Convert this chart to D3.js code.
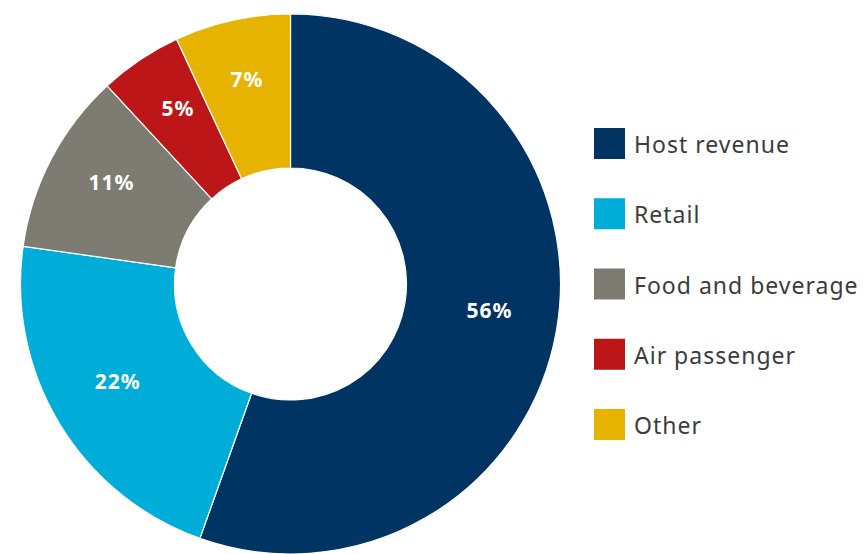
<!DOCTYPE html>
<html>
<head>
<meta charset="utf-8">
<script src="https://cdn.jsdelivr.net/npm/d3@7/dist/d3.min.js"></script>
<style>
  html, body { margin: 0; padding: 0; background: #fff; }
  svg { display: block; }
</style>
</head>
<body>
<svg id="chart" width="865" height="554"></svg>
<script>
// Revenue mix by source (percent)
const categories = ["Host revenue", "Retail", "Food and beverage", "Air passenger", "Other"];
const shares = [56, 22, 11, 5, 7];
const colors = ["#003463", "#00acd8", "#7e7b73", "#bd1618", "#e6b400"];

const svg = d3.select("#chart");
const cx = 290.5, cy = 284;
const outerR = 270, innerR = 116;

const data = categories.map((c, i) => ({ name: c, value: shares[i], color: colors[i] }));

const pie = d3.pie().value(d => d.value).sort(null);
const arc = d3.arc().innerRadius(innerR).outerRadius(outerR);
const labelArc = d3.arc().innerRadius(202).outerRadius(202);

const g = svg.append("g").attr("transform", `translate(${cx},${cy})`);
const arcs = pie(data);

g.selectAll("path.slice")
  .data(arcs)
  .join("path")
  .attr("class", "slice")
  .attr("d", arc)
  .attr("fill", d => d.data.color)
  .attr("stroke", "#fff")
  .attr("stroke-width", 1.2);

g.selectAll("text.pct")
  .data(arcs)
  .join("text")
  .attr("class", "pct")
  .attr("transform", d => {
    const [x, y] = labelArc.centroid(d);
    return `translate(${x},${y - 8})`;
  })
  .attr("text-anchor", "middle")
  .attr("dominant-baseline", "central")
  .attr("font-family", "'Noto Sans', 'DejaVu Sans', sans-serif")
  .attr("font-weight", 700)
  .attr("font-size", 21)
  .attr("letter-spacing", 1)
  .attr("fill", "#fff")
  .text(d => d.data.value + "%");

// Legend
const legend = svg.append("g").attr("transform", "translate(594,128)");
const item = legend.selectAll("g.item")
  .data(data)
  .join("g")
  .attr("class", "item")
  .attr("transform", (d, i) => `translate(0,${i * 70.25})`);

item.append("rect")
  .attr("width", 31)
  .attr("height", 31)
  .attr("fill", d => d.color);

item.append("text")
  .attr("x", 40)
  .attr("y", 16)
  .attr("dominant-baseline", "central")
  .attr("font-family", "'Noto Sans', 'DejaVu Sans', sans-serif")
  .attr("font-size", 23)
  .attr("letter-spacing", 1)
  .attr("fill", "#3c3c3c")
  .text(d => d.name);
</script>
</body>
</html>
